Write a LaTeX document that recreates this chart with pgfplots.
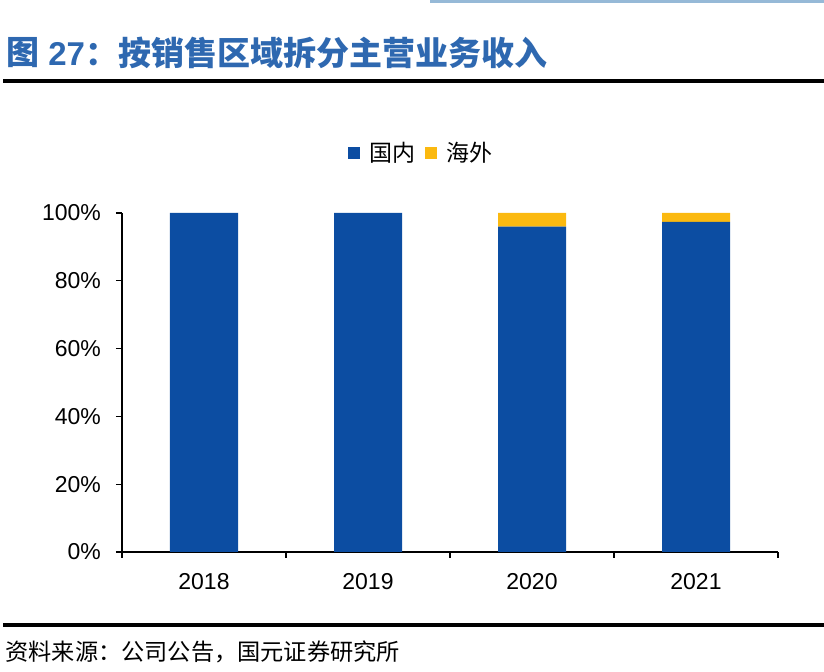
\documentclass[border=0pt]{standalone}
\usepackage{pgfplots}
\pgfplotsset{compat=1.18}
\usepackage{fontspec}
\setmainfont{Liberation Sans}
\newfontfamily\cjk{Noto Sans CJK SC}
\definecolor{dom}{RGB}{12,77,162}
\definecolor{ovs}{RGB}{251,185,16}
\definecolor{ttl}{RGB}{46,104,176}
\definecolor{topl}{RGB}{150,185,215}
\begin{document}
\begin{tikzpicture}[x=0.5pt,y=0.5pt]
\path[use as bounding box] (0,0) rectangle (824,672);
\fill[topl] (430,669) rectangle (824,672);
\fill[black] (3,589) rectangle (824,593);
\fill[black] (3,45) rectangle (824,49);
\node[anchor=west,inner sep=0pt,text=ttl,font=\fontsize{16.5}{16.5}\selectfont\bfseries] at (6,619) {\cjk 图};
\node[anchor=west,inner sep=0pt,text=ttl,font=\fontsize{16.5}{16.5}\selectfont\bfseries] at (48,619) {27\cjk：按销售区域拆分主营业务收入};
\node[anchor=west,inner sep=0pt,font=\fontsize{11.6}{11.6}\selectfont] at (5,20) {\cjk 资料来源：公司公告，国元证券研究所};
\begin{axis}[
  at={(61pt,60pt)}, anchor=south west,
  width=328pt, height=169.5pt, scale only axis,
  ybar stacked, bar width=34pt,
  xmin=-0.5, xmax=3.5, ymin=0, ymax=100,
  axis x line*=bottom, axis y line*=left,
  xtick={0,1,2,3}, xticklabels={2018,2019,2020,2021},
  major x tick style={draw=none},
  minor xtick={-0.5,0.5,1.5,2.5,3.5},
  minor tick length=3pt,
  ytick={0,20,40,60,80,100},
  yticklabel={\pgfmathprintnumber{\tick}\%},
  major tick length=3pt,
  tick align=outside,
  tick style={black, line width=0.6pt},
  axis line style={black, line width=0.6pt},
  /pgf/number format/assume math mode=true,
  ticklabel style={font=\fontsize{11.5}{11.5}\selectfont},
  yticklabel style={xshift=-4pt},
  xticklabel style={yshift=-4pt},
  legend style={at={(0.458,1.177)}, anchor=center, draw=none, legend columns=2,
    font=\fontsize{11.5}{11.5}\selectfont\cjk, column sep=2.5pt,
    /tikz/every even column/.append style={column sep=3pt}},
  legend image code/.code={\fill[#1] (2pt,-3pt) rectangle (8pt,3pt);},
]
\addplot[fill=dom, draw=none] coordinates {(0,100) (1,100) (2,96.0) (3,97.4)};
\addplot[fill=ovs, draw=none] coordinates {(0,0) (1,0) (2,4.0) (3,2.6)};
\legend{国内,海外}
\end{axis}
\end{tikzpicture}
\end{document}
